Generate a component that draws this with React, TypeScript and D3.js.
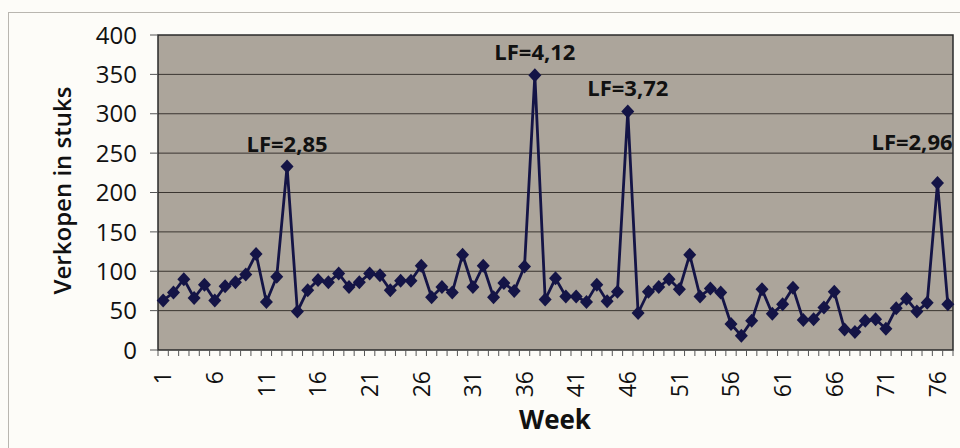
import { useRef, useEffect } from 'react'
import * as d3 from 'd3'

// weekly sales (stuks)
const weeks: number[] = d3.range(1, 78)
const sales: number[] = [
  63, 73, 90, 66, 83, 63, 81, 86, 96, 122,
  61, 93, 233, 49, 76, 89, 86, 97, 80, 86,
  97, 95, 76, 88, 88, 107, 67, 80, 73, 121,
  80, 107, 67, 85, 75, 106, 349, 64, 91, 68,
  68, 61, 83, 62, 74, 303, 47, 74, 80, 90,
  77, 121, 68, 78, 73, 33, 18, 37, 77, 46,
  58, 79, 38, 39, 54, 74, 26, 23, 37, 39,
  27, 53, 65, 49, 60, 212, 58
]
const yTicks: number[] = [0, 50, 100, 150, 200, 250, 300, 350, 400]
const xTickWeeks: number[] = [1, 6, 11, 16, 21, 26, 31, 36, 41, 46, 51, 56, 61, 66, 71, 76]
const peakWeeks: number[] = [13, 37, 46, 76]
const peakLabels: string[] = ['LF=2,85', 'LF=4,12', 'LF=3,72', 'LF=2,96']

const font = '"Open Sans", sans-serif'

function App() {
  const ref = useRef<SVGSVGElement | null>(null)

  useEffect(() => {
    const node = ref.current
    if (node === null) return
    const width = 960
    const height = 448
    const left = 158, right = 953, top = 35, bottom = 350

    const svg = d3.select(node)
    svg.selectAll('*').remove()

    svg.append('rect')
      .attr('width', width).attr('height', height).attr('fill', '#fdfcf8')
    svg.append('rect')
      .attr('x', 8.5).attr('y', 12.5).attr('width', 1000).attr('height', 1000)
      .attr('fill', 'none').attr('stroke', '#b9b6b0').attr('stroke-width', 1)

    const x = d3.scaleBand<number>().domain(weeks).range([left, right]).padding(0)
    const y = d3.scaleLinear().domain([0, 400]).range([bottom, top])
    const cx = (w: number) => (x(w) as number) + x.bandwidth() / 2

    // plot area
    svg.append('rect')
      .attr('x', left).attr('y', top)
      .attr('width', right - left).attr('height', bottom - top)
      .attr('fill', '#aca59b')

    // grid
    svg.append('g')
      .selectAll('line')
      .data(yTicks.filter(d => d > 0 && d < 400))
      .join('line')
      .attr('x1', left).attr('x2', right)
      .attr('y1', d => y(d)).attr('y2', d => y(d))
      .attr('stroke', '#3a3530').attr('stroke-width', 1)

    svg.append('rect')
      .attr('x', left).attr('y', top)
      .attr('width', right - left).attr('height', bottom - top)
      .attr('fill', 'none').attr('stroke', '#2a2a2a').attr('stroke-width', 1.5)

    // y axis ticks + labels
    svg.append('g')
      .selectAll('line')
      .data(yTicks)
      .join('line')
      .attr('x1', left - 8).attr('x2', left)
      .attr('y1', d => y(d)).attr('y2', d => y(d))
      .attr('stroke', '#555').attr('stroke-width', 1)
    svg.append('g')
      .selectAll('text')
      .data(yTicks)
      .join('text')
      .attr('x', 137).attr('y', d => y(d))
      .attr('dy', '0.36em')
      .attr('text-anchor', 'end')
      .attr('font-family', font).attr('font-size', 24)
      .attr('fill', '#111')
      .text(d => d)

    // x axis ticks at category edges
    const edges = weeks.map(w => x(w) as number).concat([right])
    svg.append('g')
      .selectAll('line')
      .data(edges)
      .join('line')
      .attr('x1', d => d).attr('x2', d => d)
      .attr('y1', bottom).attr('y2', bottom + 6)
      .attr('stroke', '#555').attr('stroke-width', 1)
    svg.append('g')
      .selectAll('text')
      .data(xTickWeeks)
      .join('text')
      .attr('transform', d => `translate(${cx(d)},371) rotate(-90)`)
      .attr('dy', '0.36em')
      .attr('text-anchor', 'end')
      .attr('font-family', font).attr('font-size', 23)
      .attr('fill', '#111')
      .text(d => d)

    // axis titles
    svg.append('text')
      .attr('transform', `translate(71,${(top + bottom) / 2 - 2}) rotate(-90)`)
      .attr('text-anchor', 'middle')
      .attr('font-family', font).attr('font-size', 24).attr('font-weight', 600)
      .attr('fill', '#111')
      .text('Verkopen in stuks')
    svg.append('text')
      .attr('x', 555).attr('y', 429)
      .attr('text-anchor', 'middle')
      .attr('font-family', font).attr('font-size', 26).attr('font-weight', 700)
      .attr('fill', '#111')
      .text('Week')

    // line + markers
    const line = d3.line<number>()
      .x((_, i) => cx(weeks[i]))
      .y(d => y(d))
    svg.append('path')
      .datum(sales)
      .attr('fill', 'none')
      .attr('stroke', '#141446')
      .attr('stroke-width', 2.8)
      .attr('d', line)

    svg.append('g')
      .selectAll('path')
      .data(sales)
      .join('path')
      .attr('transform', (d, i) => `translate(${cx(weeks[i])},${y(d)})`)
      .attr('d', 'M0,-7L6.5,0L0,7L-6.5,0Z')
      .attr('fill', '#141446')

    // peak labels
    svg.append('g')
      .selectAll('text')
      .data(peakWeeks)
      .join('text')
      .attr('x', (w, i) => i === peakWeeks.length - 1 ? 912 : cx(w))
      .attr('y', (w, i) => {
        const v = sales[weeks.indexOf(w)]
        return i === peakWeeks.length - 1 ? y(v) - 33 : y(v) - 15
      })
      .attr('text-anchor', 'middle')
      .attr('font-family', font).attr('font-size', 22).attr('font-weight', 700)
      .attr('fill', '#111')
      .text((_, i) => peakLabels[i])
  })

  return (
    <svg ref={ref} width={960} height={448}
      style={{ position: 'absolute', left: 0, top: 0, display: 'block' }} />
  )
}

export default App
